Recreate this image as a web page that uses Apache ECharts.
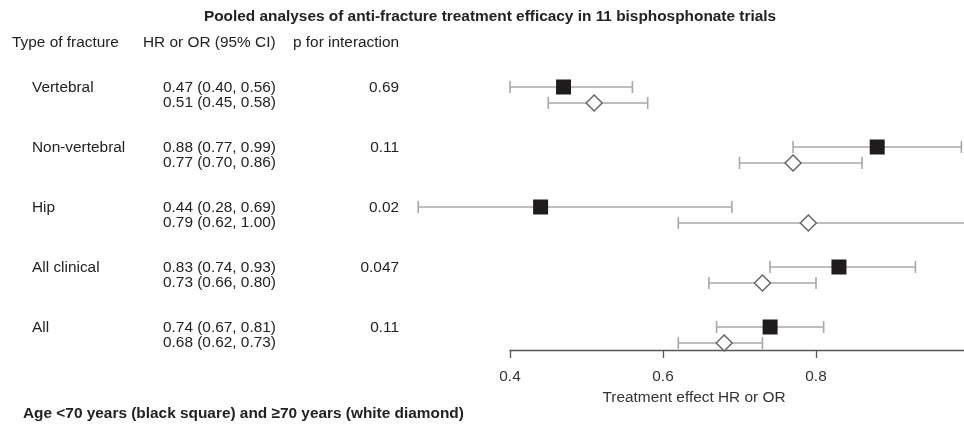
<!DOCTYPE html>
<html>
<head>
<meta charset="utf-8">
<script src="https://cdn.jsdelivr.net/npm/echarts@6/dist/echarts.min.js"></script>
<style>
  html, body { margin: 0; padding: 0; background: #fff; }
  #chart { width: 964px; height: 427px; }
</style>
</head>
<body>
<div id="chart"></div>
<script>
// data
var fractureTypes = ['Vertebral', 'Non-vertebral', 'Hip', 'All clinical', 'All'];
var youngHR = [0.47, 0.88, 0.44, 0.83, 0.74];   // age <70, black square
var youngLo = [0.40, 0.77, 0.28, 0.74, 0.67];
var youngHi = [0.56, 0.99, 0.69, 0.93, 0.81];
var oldHR = [0.51, 0.77, 0.79, 0.73, 0.68];     // age >=70, white diamond
var oldLo = [0.45, 0.70, 0.62, 0.66, 0.62];
var oldHi = [0.58, 0.86, 1.00, 0.80, 0.73];
var pInteraction = ['0.69', '0.11', '0.02', '0.047', '0.11'];
var xTicks = [0.4, 0.6, 0.8];

var ROW_GAP = 0.267; // second line of each row sits a bit lower
var FONT = '"Liberation Sans", Arial, Helvetica, sans-serif';
var FS = 15.4;

function ci(v, lo, hi) {
  return v.toFixed(2) + ' (' + lo.toFixed(2) + ', ' + hi.toFixed(2) + ')';
}

var youngData = fractureTypes.map(function (t, i) { return [youngHR[i], youngLo[i], youngHi[i], i]; });
var oldData = fractureTypes.map(function (t, i) { return [oldHR[i], oldLo[i], oldHi[i], i + ROW_GAP]; });
var tableData = fractureTypes.map(function (t, i) { return [0.4, i]; });

function whiskerItem(shape) {
  return function (params, api) {
    var y = api.coord([api.value(0), api.value(3)])[1];
    var xm = api.coord([api.value(0), api.value(3)])[0];
    var xl = api.coord([api.value(1), api.value(3)])[0];
    var xh = api.coord([api.value(2), api.value(3)])[0];
    var ls = { stroke: '#a8a8a8', lineWidth: 1.6 };
    var kids = [
      { type: 'line', shape: { x1: xl, y1: y, x2: xh, y2: y }, style: ls },
      { type: 'line', shape: { x1: xl, y1: y - 6, x2: xl, y2: y + 6 }, style: ls },
      { type: 'line', shape: { x1: xh, y1: y - 6, x2: xh, y2: y + 6 }, style: ls }
    ];
    if (shape === 'square') {
      kids.push({ type: 'rect', shape: { x: xm - 7.5, y: y - 7.5, width: 15, height: 15 },
        style: { fill: '#1e1c1d' } });
    } else {
      kids.push({ type: 'polygon', shape: { points: [[xm, y - 8], [xm + 8, y], [xm, y + 8], [xm - 8, y]] },
        style: { fill: '#fff', stroke: '#666', lineWidth: 1.5 } });
    }
    return { type: 'group', children: kids };
  };
}

var chart = echarts.init(document.getElementById('chart'));
chart.setOption({
  backgroundColor: '#fff',
  animation: false,
  grid: { left: 510, top: 60, width: 459, height: 290, outerBoundsMode: 'none', containLabel: false },
  xAxis: {
    type: 'value', min: 0.4, max: 1.0, interval: 0.2,
    position: 'bottom',
    splitLine: { show: false },
    axisLine: { onZero: false, lineStyle: { color: '#555', width: 1.3 } },
    axisTick: { length: 8, inside: false, lineStyle: { color: '#555', width: 1.3 } },
    axisLabel: {
      margin: 19, color: '#333', fontFamily: FONT, fontSize: FS, showMaxLabel: false,
      formatter: function (v) { return xTicks.indexOf(+v.toFixed(1)) >= 0 ? v.toFixed(1) : ''; }
    },
    name: 'Treatment effect HR or OR',
    nameLocation: 'middle', nameGap: 40,
    nameTextStyle: { color: '#333', fontFamily: FONT, fontSize: FS, padding: [0, 91, 0, 0] }
  },
  yAxis: { type: 'value', inverse: true, min: -0.45, max: 4.3833, show: false },
  graphic: [
    { type: 'text', x: 490, y: 17,
      style: { text: 'Pooled analyses of anti-fracture treatment efficacy in 11 bisphosphonate trials',
        fill: '#222', font: 'bold ' + FS + 'px ' + FONT, align: 'center', verticalAlign: 'middle' } },
    { type: 'text', x: 12, y: 43,
      style: { text: 'Type of fracture', fill: '#222', font: FS + 'px ' + FONT, verticalAlign: 'middle' } },
    { type: 'text', x: 143, y: 43,
      style: { text: 'HR or OR (95% CI)', fill: '#222', font: FS + 'px ' + FONT, verticalAlign: 'middle' } },
    { type: 'text', x: 293, y: 43,
      style: { text: 'p for interaction', fill: '#222', font: FS + 'px ' + FONT, verticalAlign: 'middle' } },
    { type: 'text', x: 23, y: 414,
      style: { text: 'Age <70 years (black square) and \u226570 years (white diamond)',
        fill: '#222', font: 'bold ' + FS + 'px ' + FONT, verticalAlign: 'middle' } }
  ],
  series: [
    {
      type: 'custom', name: 'table', clip: false, silent: true,
      data: tableData,
      renderItem: function (params, api) {
        var i = params.dataIndex;
        var y1 = api.coord([0.4, i])[1];
        var y2 = api.coord([0.4, i + ROW_GAP])[1];
        var f = FS + 'px ' + FONT;
        return { type: 'group', children: [
          { type: 'text', style: { text: fractureTypes[i], x: 32, y: y1 + 1, fill: '#222', font: f, verticalAlign: 'middle' } },
          { type: 'text', style: { text: ci(youngHR[i], youngLo[i], youngHi[i]), x: 163, y: y1 + 1, fill: '#222', font: f, verticalAlign: 'middle' } },
          { type: 'text', style: { text: ci(oldHR[i], oldLo[i], oldHi[i]), x: 163, y: y2, fill: '#222', font: f, verticalAlign: 'middle' } },
          { type: 'text', style: { text: pInteraction[i], x: 399, y: y1 + 1, fill: '#222', font: f, align: 'right', verticalAlign: 'middle' } }
        ] };
      }
    },
    { type: 'custom', name: 'age <70', clip: false, data: youngData, renderItem: whiskerItem('square') },
    { type: 'custom', name: 'age >=70', clip: false, data: oldData, renderItem: whiskerItem('diamond') }
  ]
});
</script>
</body>
</html>
